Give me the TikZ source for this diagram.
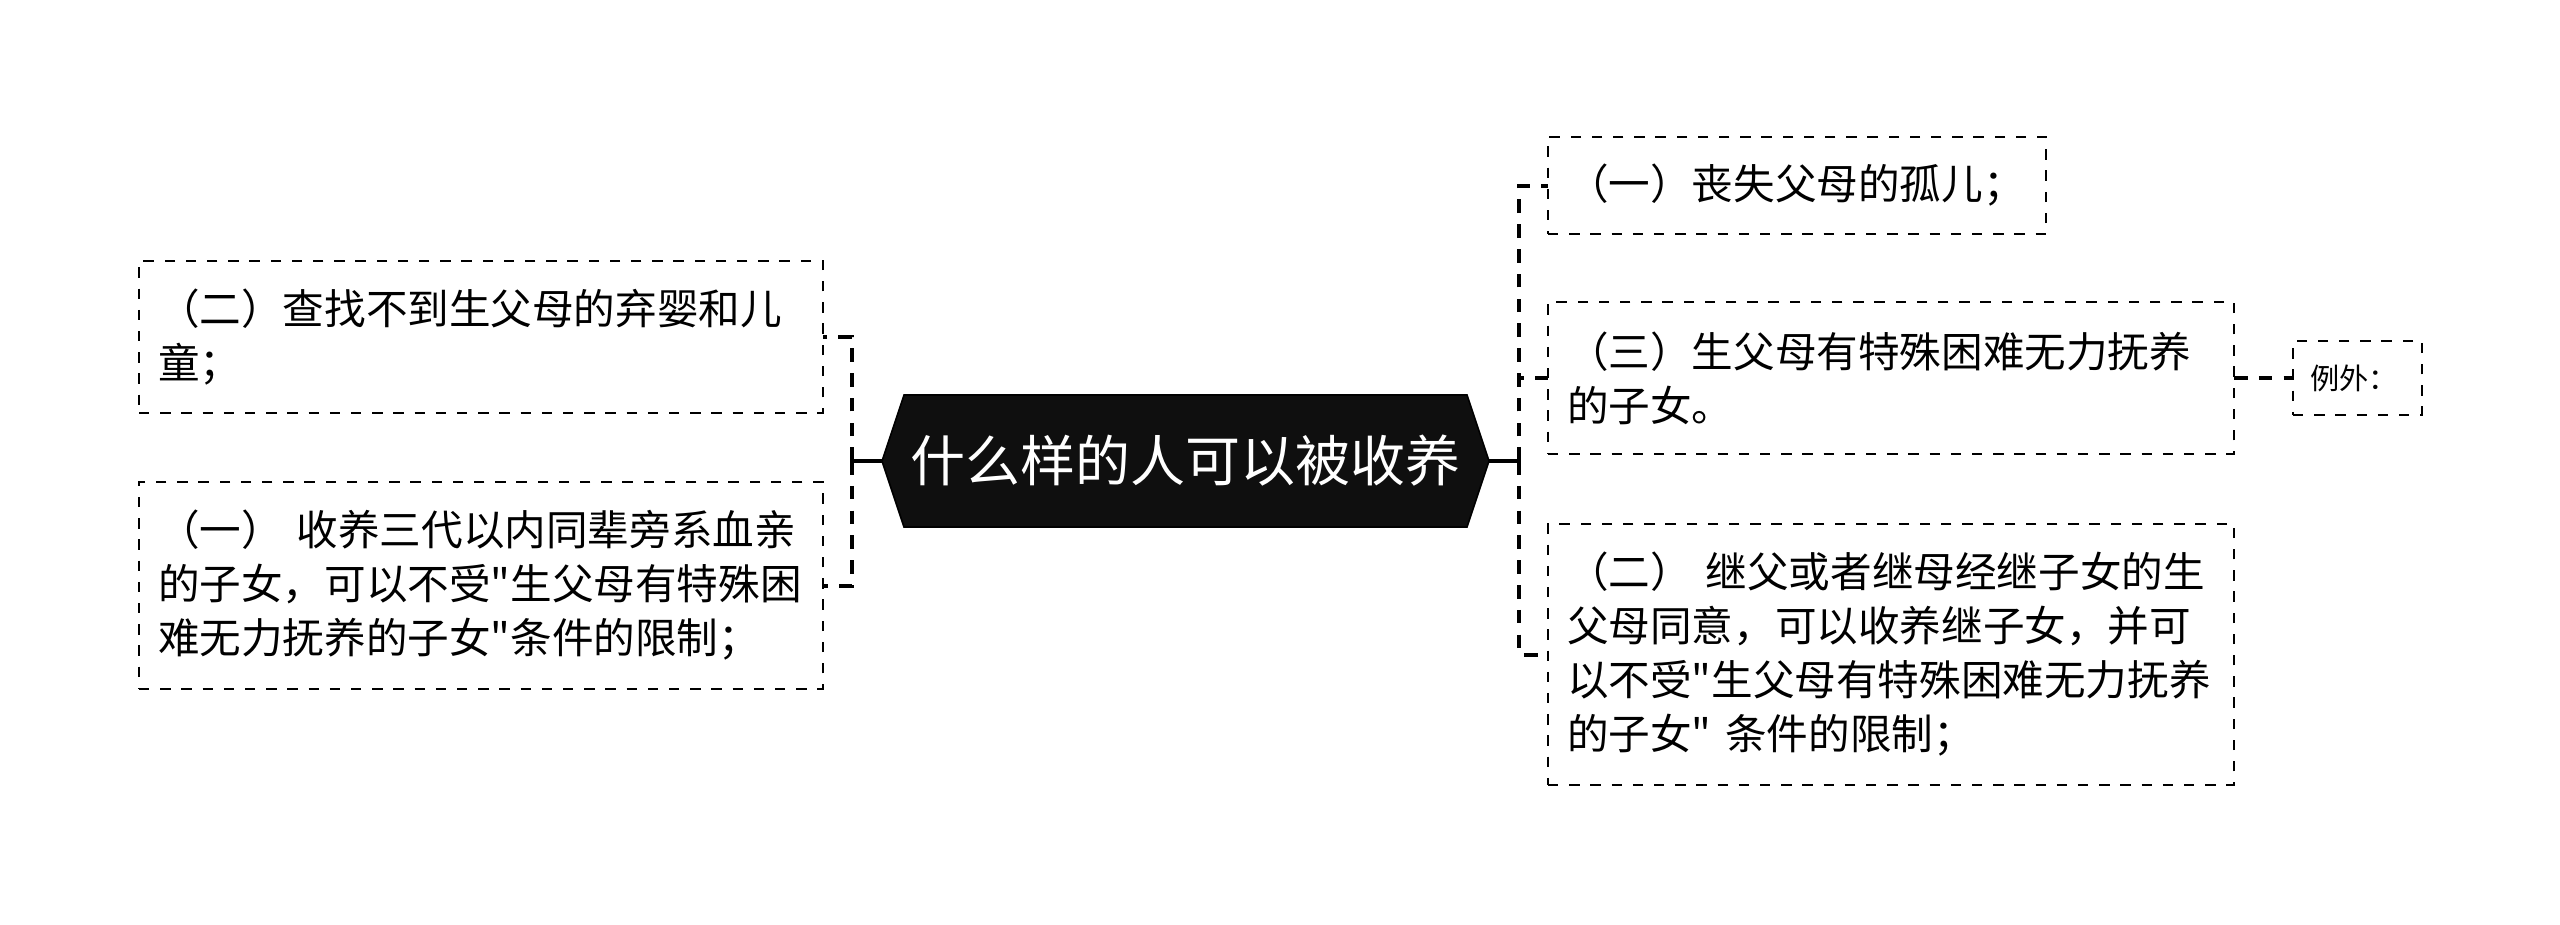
\documentclass[tikz,border=0pt]{standalone}
\usepackage{fontspec}
\newfontfamily\cjk{Noto Sans CJK SC}
\usetikzlibrary{positioning,backgrounds}

\begin{document}
\begin{tikzpicture}[
    x=0.25pt, y=-0.25pt,
    every node/.style={font=\cjk, outer sep=0pt},
    leaf/.style={draw, line width=0.62pt, dash pattern=on 2.6pt off 2.7pt,
        anchor=north west, inner xsep=4.75pt, inner ysep=0pt, align=left,
        font=\cjk\fontsize{10.4pt}{13.5pt}\selectfont},
    rootnode/.style={minimum width=151.75pt, minimum height=33pt, inner sep=0pt,
        text=white, font=\cjk\fontsize{13.75pt}{16pt}\selectfont},
    trunk/.style={line width=1pt},
    link/.style={line width=1pt, dash pattern=on 3.4pt off 2.8pt}
]
\useasboundingbox (0,0) rectangle (2560,924);

\node[rootnode] (root) at (1185.5,461) {什么样的人可以被收养};
\begin{scope}[on background layer]
\fill[black!94, draw=black, line width=0.4pt] (root.west) -- ([shift={(22,0)}]root.north west)
    -- ([shift={(-22,0)}]root.north east) -- (root.east)
    -- ([shift={(-22,0)}]root.south east) -- ([shift={(22,0)}]root.south west) -- cycle;
\end{scope}

\node[leaf, text width=161.5pt, minimum height=38pt] (l1) at (139,261)
    {（二）查找不到生父母的弃婴和儿\\童；};
\node[leaf, text width=161.5pt, minimum height=51.75pt] (l2) at (139,482)
    {（一） 收养三代以内同辈旁系血亲\\的子女，可以不受"生父母有特殊困\\难无力抚养的子女"条件的限制；};
\node[leaf, text width=115pt, minimum height=24.25pt] (r1) at (1548,137)
    {（一）丧失父母的孤儿；};
\node[leaf, text width=162pt, minimum height=38pt] (r2) at (1548,302)
    {（三）生父母有特殊困难无力抚养\\的子女。};
\node[leaf, text width=162pt, minimum height=65.25pt] (r3) at (1548,524)
    {（二） 继父或者继母经继子女的生\\父母同意，可以收养继子女，并可\\以不受"生父母有特殊困难无力抚养\\的子女" 条件的限制；};
\node[leaf, text width=23.75pt, inner xsep=4.25pt, minimum height=18.5pt,
    line width=0.55pt, font=\cjk\fontsize{7.3pt}{8.5pt}\selectfont] (e1) at (2293,341) {例外：};

\coordinate (jl) at (852,461);
\coordinate (jr) at (1519,461);
\draw[trunk] (root.west) -- (jl);
\draw[trunk] (root.east) -- (jr);
\draw[link] (jl) |- (l1.east);
\draw[link] (jl) |- (l2.east);
\draw[link] (jr) |- (r1.west);
\draw[link] (jr) |- (r2.west);
\draw[link] (jr) |- (r3.west);
\draw[link] (r2.east) -- (e1.west);
\end{tikzpicture}
\end{document}
